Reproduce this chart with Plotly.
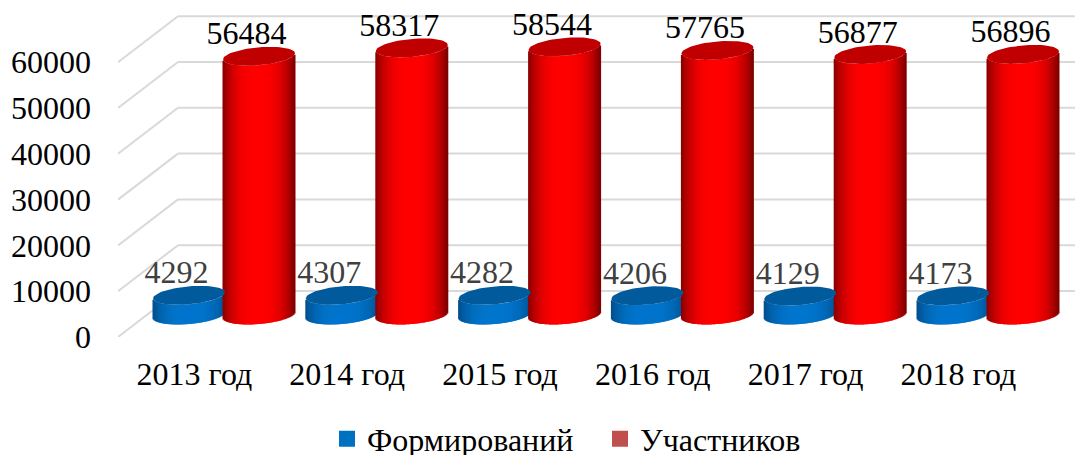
import numpy as np
import plotly.graph_objects as go

years = ["2013 год", "2014 год", "2015 год", "2016 год", "2017 год", "2018 год"]
formations = [4292, 4307, 4282, 4206, 4129, 4173]
participants = [56484, 58317, 58544, 57765, 56877, 56896]
y_ticks = [0, 10000, 20000, 30000, 40000, 50000, 60000]

PAGE = 8              # browser body margin
W, H = 1083 - PAGE, 455 - PAGE
ML, MT, MB = 118 - PAGE, 10 - PAGE, 118
STEP = 152.8          # px per category
PX = 45.8 / 10000     # px per unit
xr = [-0.5, -0.5 + (W - ML) / STEP]
yr = [0, (H - MT - MB) / PX]
dx = lambda p: p / STEP
dy = lambda p: p / PX

FONT = "Liberation Serif"
DEPTH = dy(22)
BACK_X, BACK_Y = dx(60), dy(46)
RX, RY, TILT = dx(36), dy(9), dy(3)
N = 72


def cylinder(values, centre, col_edge_l, col_mid, col_edge_r, name):
    u = (np.arange(N) + 0.5) / N * 2 - 1
    xs, bases, heights, colors = [], [], [], []
    for i, v in enumerate(values):
        for ui in u:
            xs.append(i + centre + ui * RX)
            bases.append(DEPTH + TILT * ui - RY * np.sqrt(1 - ui ** 2))
            heights.append(v)
            e = col_edge_l if ui < 0 else col_edge_r
            t = min(1.0, abs(ui) ** 2.8)
            colors.append("rgb(%d,%d,%d)" % tuple(int(col_mid[k] + (e[k] - col_mid[k]) * t) for k in range(3)))
    return go.Bar(x=xs, y=heights, base=bases, width=2 * RX / N * 2,
                  marker=dict(color=colors, line=dict(width=0)), showlegend=False,
                  hoverinfo="skip", name=name)


def caps(values, centre, color):
    t = np.linspace(0, 2 * np.pi, 73)
    xs, ys = [], []
    for i, v in enumerate(values):
        xs += list(i + centre + RX * np.cos(t)) + [None]
        ys += list(DEPTH + v + RY * np.sin(t) + TILT * np.cos(t)) + [None]
    return go.Scatter(x=xs, y=ys, mode="lines", fill="toself", fillcolor=color,
                      line=dict(width=0, color=color), showlegend=False, hoverinfo="skip")


def labels(values, centre, color):
    return go.Scatter(x=[i + centre + dx(-12.5) for i in range(len(values))],
                      y=[DEPTH + v + dy(20) for v in values],
                      mode="text", text=[str(v) for v in values], textposition="middle center",
                      textfont=dict(family=FONT, size=32, color=color),
                      showlegend=False, cliponaxis=False, hoverinfo="skip")


BLUE_C = dx(189 - 118) - 0.5
RED_C = dx(259 - 118) - 0.5

fig = go.Figure()
fig.add_trace(cylinder(formations, BLUE_C, (0, 78, 140), (0, 118, 205), (0, 84, 150), "Формирований"))
fig.add_trace(cylinder(participants, RED_C, (135, 0, 0), (255, 0, 0), (125, 0, 0), "Участников"))
fig.add_trace(caps(formations, BLUE_C, "#005A9C"))
fig.add_trace(caps(participants, RED_C, "#C00000"))
fig.add_trace(labels(formations, BLUE_C, "#404040"))
fig.add_trace(labels(participants, RED_C, "#000000"))
fig.add_trace(go.Scatter(x=[None], y=[None], mode="markers", name="Формирований",
                         marker=dict(symbol="square", size=16, color="#0070C0")))
fig.add_trace(go.Scatter(x=[None], y=[None], mode="markers", name="Участников",
                         marker=dict(symbol="square", size=16, color="#C0504D")))

shapes = []
for v in y_ticks:
    shapes.append(dict(type="line", layer="below", xref="x", yref="y",
                       x0=xr[0], y0=v, x1=xr[0] + BACK_X, y1=v + BACK_Y,
                       line=dict(color="#D9D9D9", width=2)))
    shapes.append(dict(type="line", layer="below", xref="x", yref="y",
                       x0=xr[0] + BACK_X, y0=v + BACK_Y, x1=xr[1], y1=v + BACK_Y,
                       line=dict(color="#D9D9D9", width=2)))

fig.update_layout(
    width=W, height=H,
    margin=dict(l=ML, r=0, t=MT, b=MB, pad=0, autoexpand=False),
    paper_bgcolor="white", plot_bgcolor="white",
    barmode="overlay", shapes=shapes,
    font=dict(family=FONT, size=32, color="#000000"),
    xaxis=dict(range=xr, tickvals=list(range(len(years))), ticktext=years, showgrid=False,
               zeroline=False, showline=False, ticks="", ticklabelstandoff=15,
               automargin=False, tickfont=dict(family=FONT, size=32, color="#000000")),
    yaxis=dict(range=yr, tickvals=y_ticks, showgrid=False, zeroline=False, showline=False,
               ticks="", ticklabelstandoff=26, tickformat="d",
               automargin=False, tickfont=dict(family=FONT, size=32, color="#000000")),
    legend=dict(orientation="h", x=0.2166, xref="paper", xanchor="left", y=-0.312, yanchor="middle",
                entrywidth=228, entrywidthmode="pixels",
                font=dict(family=FONT, size=32, color="#000000"),
                bgcolor="rgba(0,0,0,0)"),
)

fig.write_html("out.html")
